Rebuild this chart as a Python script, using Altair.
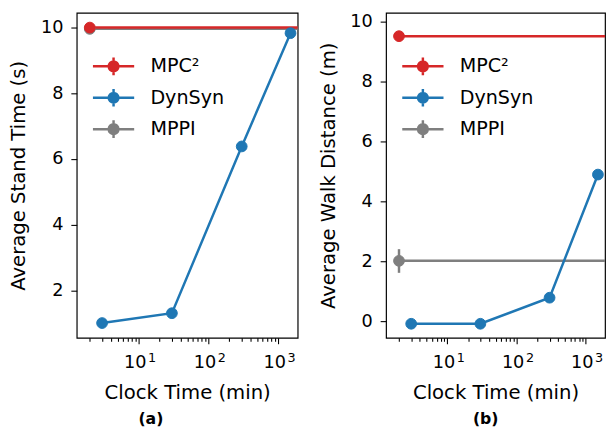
import altair as alt
import pandas as pd

# ---------------- data ----------------
series_names = ["MPC²", "DynSyn", "MPPI"]
series_colors = ["#d62728", "#1f77b4", "#7f7f7f"]

dyn_clock = [3, 30, 300, 1500]
dyn_stand = [1.0, 1.3, 6.38, 9.83]
dyn_walk = [-0.08, -0.08, 0.79, 4.9]

base_clock = 2
base_names = ["MPPI", "MPC²"]
stand_base_vals = [9.96, 10.0]
stand_base_lo = [9.96, 10.0]
stand_base_hi = [9.96, 10.0]
walk_base_vals = [2.02, 9.52]
walk_base_lo = [1.62, 9.52]
walk_base_hi = [2.41, 9.52]

x_domain = [1.3, 1900]
x_label_ticks = [10, 100, 1000]
x_minor_ticks = [2, 3, 4, 5, 6, 7, 8, 9, 20, 30, 40, 50, 60, 70, 80, 90,
                 200, 300, 400, 500, 600, 700, 800, 900]
stand_ydomain = [0.55, 10.45]
stand_yticks = [2, 4, 6, 8, 10]
walk_ydomain = [-0.55, 10.3]
walk_yticks = [0, 2, 4, 6, 8, 10]

FONT = "DejaVu Sans"
H = 331
LW = 2.5

legend_path = ("M-1.4,0H1.4M0,-0.6V0.6"
               "M0.33,0A0.33,0.33,0,1,1,-0.33,0A0.33,0.33,0,1,1,0.33,0Z")


def panel(base_vals, base_lo, base_hi, dyn_vals, ydomain, yticks, ytitle,
          caption, W, cap_dx):
    base_df = pd.DataFrame({"series": base_names, "clock": [base_clock] * 2,
                            "value": base_vals, "lo": base_lo, "hi": base_hi})
    dyn_df = pd.DataFrame({"series": ["DynSyn"] * len(dyn_clock),
                           "clock": dyn_clock, "value": dyn_vals})
    pts_df = pd.concat([base_df.iloc[[0]][["series", "clock", "value"]], dyn_df,
                        base_df.iloc[[1]][["series", "clock", "value"]]],
                       ignore_index=True)

    xs = alt.Scale(type="log", domain=x_domain, nice=False)
    ys = alt.Scale(domain=ydomain, nice=False, zero=False)
    cs = alt.Scale(domain=series_names, range=series_colors)
    yax = alt.Axis(values=yticks, title=ytitle, titlePadding=12)
    minor_axis = alt.Axis(values=x_minor_ticks, labels=False, tickSize=3.5,
                          title=None, orient="bottom")
    # base "10" of each power-of-ten label
    major_axis = alt.Axis(values=x_label_ticks, orient="bottom",
                          title="Clock Time (min)", titlePadding=12,
                          labelPadding=10, labelOffset=-4, labelExpr="'10'")
    # exponent of each power-of-ten label, smaller and raised
    exp_axis = alt.Axis(values=x_label_ticks, orient="bottom", title=None,
                        labelPadding=8, labelFontSize=13, tickOpacity=0,
                        labelAlign="left", labelOffset=9,
                        labelExpr="format(log(datum.value) / log(10), 'd')")

    leg = alt.Legend(title=None, orient="none", legendX=21, legendY=38,
                     symbolType=legend_path, symbolSize=900,
                     symbolStrokeWidth=LW, symbolOpacity=1,
                     labelFontSize=19.5, labelFont=FONT, labelColor="black",
                     labelOffset=21, rowPadding=1)

    rules = alt.Chart(base_df).mark_rule(strokeWidth=LW).encode(
        x=alt.X("clock:Q", scale=xs, axis=minor_axis),
        x2=alt.value(W),
        y=alt.Y("value:Q", scale=ys, axis=yax),
        stroke=alt.Stroke("series:N", scale=cs, legend=leg),
    )
    errs = alt.Chart(base_df).mark_rule(strokeWidth=LW).encode(
        x=alt.X("clock:Q", scale=xs, axis=None),
        y=alt.Y("lo:Q", scale=ys, axis=yax),
        y2="hi:Q",
        stroke=alt.Stroke("series:N", scale=cs, legend=leg),
    )
    line = alt.Chart(dyn_df).mark_line(strokeWidth=LW).encode(
        x=alt.X("clock:Q", scale=xs, axis=exp_axis),
        y=alt.Y("value:Q", scale=ys, axis=yax),
        stroke=alt.Stroke("series:N", scale=cs, legend=leg),
    )
    pts = alt.Chart(pts_df).mark_point(filled=True, size=120, strokeWidth=1,
                                       opacity=1).encode(
        x=alt.X("clock:Q", scale=xs, axis=major_axis),
        y=alt.Y("value:Q", scale=ys, axis=yax),
        fill=alt.Fill("series:N", scale=cs, legend=leg),
        stroke=alt.Stroke("series:N", scale=cs, legend=leg),
    )
    return alt.layer(rules, errs, line, pts).resolve_axis(x="independent").properties(
        width=W, height=H,
        title=alt.TitleParams(caption, orient="bottom", fontSize=16,
                              fontWeight="bold", font=FONT, color="black",
                              offset=9, dx=cap_dx),
    )


pa = panel(stand_base_vals, stand_base_lo, stand_base_hi, dyn_stand,
           stand_ydomain, stand_yticks, "Average Stand Time (s)", "(a)", 225, -37)
pb = panel(walk_base_vals, walk_base_lo, walk_base_hi, dyn_walk,
           walk_ydomain, walk_yticks, "Average Walk Distance (m)", "(b)", 223, -10)

chart = alt.hconcat(pa, pb, spacing=90, bounds="flush").resolve_scale(
    x="independent", y="independent", fill="independent", stroke="independent"
).resolve_legend(
    fill="independent", stroke="independent"
).properties(
    padding={"left": 0, "top": 0, "right": 0, "bottom": 0}
).configure(font=FONT).configure_view(
    stroke="black", strokeWidth=1.2
).configure_axis(
    domain=False, grid=False, tickColor="black", tickWidth=1.1, tickSize=6,
    labelColor="black", titleColor="black", labelFont=FONT, titleFont=FONT,
    labelFontSize=18, titleFontSize=20, titleFontWeight="normal",
    labelPadding=8,
)

chart.save("out.html", embed_options={"renderer": "svg", "actions": False})
